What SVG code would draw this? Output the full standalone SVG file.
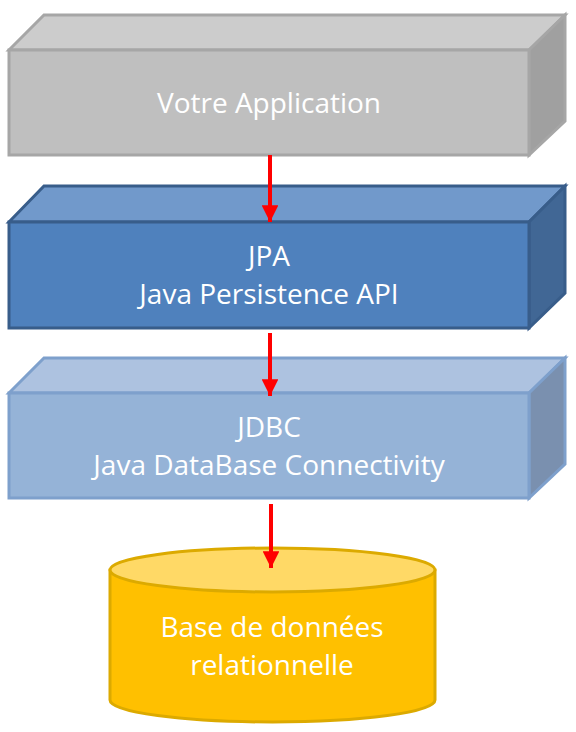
<svg xmlns="http://www.w3.org/2000/svg" width="576" height="732" viewBox="0 0 576 732">
  <defs>
    <style>
      .lbl { font-family: "Open Sans", "Liberation Sans", sans-serif; font-size: 28px; fill: #ffffff; text-anchor: middle; }
      .app path { stroke: #a6a6a6; stroke-width: 3; stroke-linejoin: miter; }
      .jpa path { stroke: #385d8a; stroke-width: 3; stroke-linejoin: miter; }
      .jdbc path { stroke: #7ea0cc; stroke-width: 3; stroke-linejoin: miter; }
      .db ellipse, .db path { stroke: #dcaa00; stroke-width: 3; }
      .conn line { stroke: #ff0000; stroke-width: 4; }
    </style>
    <marker id="arrow" viewBox="0 0 10 10" refX="10" refY="5" markerWidth="4.2" markerHeight="4.2" markerUnits="strokeWidth" orient="auto">
      <path d="M0,0 L10,5 L0,10 Z" fill="#ff0000"/>
    </marker>
  </defs>

  <g id="node-app" class="app">
    <path d="M9,50 L44,15 L565,15 L529,50 Z" fill="#cccccc"/>
    <path d="M529,50 L565,15 L565,121 L529,155 Z" fill="#a0a0a0"/>
    <path d="M9,50 L529,50 L529,155 L9,155 Z" fill="#bfbfbf"/>
    <text class="lbl" x="269" y="113">Votre Application</text>
  </g>

  <g id="node-jpa" class="jpa">
    <path d="M9,222 L44,186 L565,186 L529,222 Z" fill="#7199cb"/>
    <path d="M529,222 L565,186 L565,293 L529,328 Z" fill="#416795"/>
    <path d="M9,222 L529,222 L529,328 L9,328 Z" fill="#4f81bd"/>
    <text class="lbl" x="269" y="266">JPA</text>
    <text class="lbl" x="269" y="304">Java Persistence API</text>
  </g>

  <g id="node-jdbc" class="jdbc">
    <path d="M9,393 L44,358 L565,358 L529,393 Z" fill="#adc2e0"/>
    <path d="M529,393 L565,358 L565,464 L529,498 Z" fill="#7a90af"/>
    <path d="M9,393 L529,393 L529,498 L9,498 Z" fill="#95b3d7"/>
    <text class="lbl" x="269" y="437">JDBC</text>
    <text class="lbl" x="269" y="475">Java DataBase Connectivity</text>
  </g>

  <g id="node-db" class="db">
    <path d="M110,570 L110,700 A162.5,22 0 0 0 435,700 L435,570 Z" fill="#ffc000"/>
    <ellipse cx="272.5" cy="570" rx="162.5" ry="22" fill="#ffd966"/>
    <text class="lbl" x="272" y="637">Base de données</text>
    <text class="lbl" x="272" y="675">relationnelle</text>
  </g>

  <g id="connectors" class="conn">
    <line x1="270" y1="155" x2="270" y2="222" marker-end="url(#arrow)"/>
    <line x1="270" y1="333" x2="270" y2="396" marker-end="url(#arrow)"/>
    <line x1="271" y1="504" x2="271" y2="568" marker-end="url(#arrow)"/>
  </g>
</svg>
